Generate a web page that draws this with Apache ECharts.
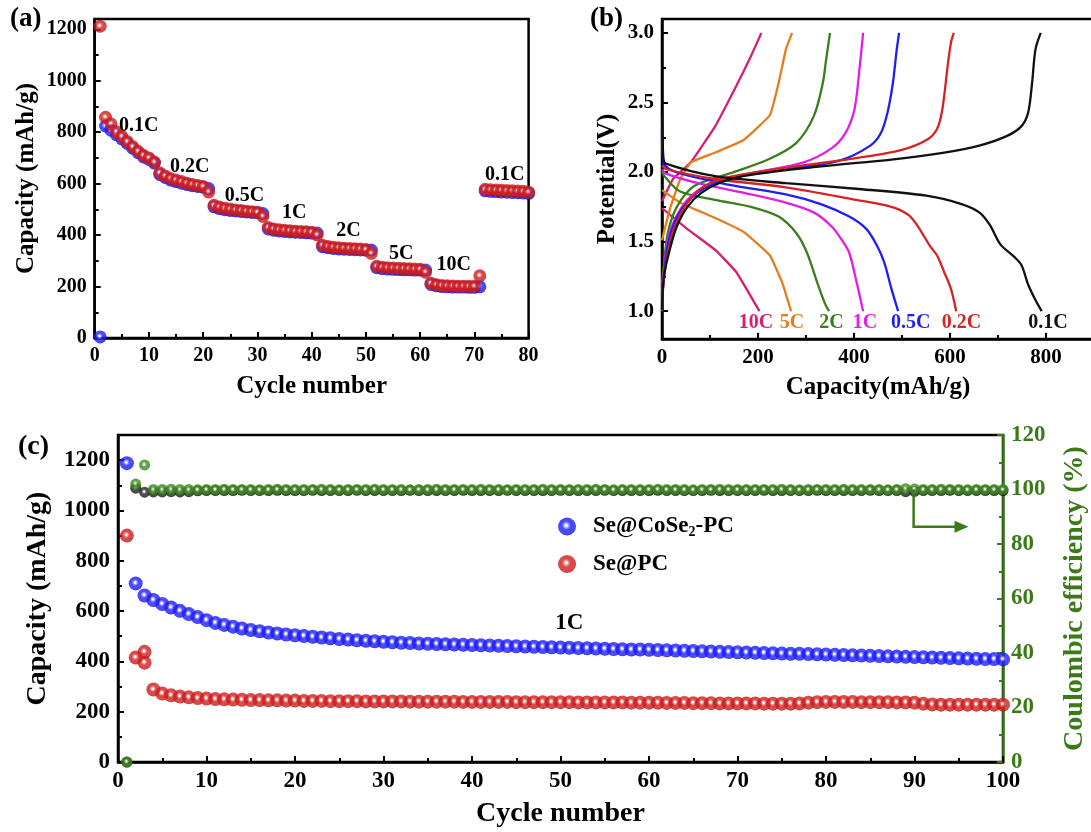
<!DOCTYPE html>
<html>
<head>
<meta charset="utf-8">
<script src="https://cdn.jsdelivr.net/npm/echarts@6/dist/echarts.min.js"></script>
<style>
html,body{margin:0;padding:0;background:#fff;}
#main{width:1091px;height:832px;}
</style>
</head>
<body>
<div id="main"></div>
<script>
// ---------- (a) rate capability, cycles 1..80 ----------
const rateCoSe2 = [4,
  824, 808, 790, 774, 756, 738, 720, 704, 694, 680,
  636, 624, 614, 608, 602, 597, 592, 589, 586, 581,
  510, 503, 499, 496, 494, 492, 490, 488, 487, 484,
  424, 419, 416, 414, 412, 411, 410, 409, 408, 408,
  355, 351, 348, 346, 345, 344, 343, 342, 341, 342,
  273, 270, 268, 267, 266, 265, 265, 264, 264, 264,
  208, 203, 200, 199, 198, 198, 198, 197, 197, 199,
  572, 570, 569, 568, 567, 566, 565, 564, 562];
const ratePC = [1212,
  858, 832, 802, 784, 764, 744, 726, 710, 700, 684,
  642, 630, 620, 614, 608, 602, 597, 593, 589, 568,
  516, 509, 504, 501, 498, 496, 493, 491, 489, 473,
  430, 424, 421, 419, 417, 415, 414, 413, 411, 401,
  361, 356, 353, 351, 349, 348, 347, 346, 344, 329,
  279, 275, 273, 272, 271, 270, 269, 268, 267, 256,
  213, 207, 204, 203, 202, 201, 201, 201, 201, 242,
  578, 576, 575, 574, 573, 572, 571, 570, 567];
const rateTags = ['0.1C', '0.2C', '0.5C', '1C', '2C', '5C', '10C', '0.1C'];
const rateTagAt = [[8.1, 826], [17.5, 667], [27.6, 551], [36.8, 486], [46.8, 415], [56.5, 328], [66.2, 286], [75.6, 635]];

// ---------- (b) charge/discharge profiles, [capacity, potential] ----------
const dis10C = [[0,1.74],[53,1.59],[111,1.44],[155,1.28],[203,1.0]];
const chg10C = [[0,1.79],[23,1.95],[60,2.07],[111,2.33],[155,2.62],[185,2.83],[207,3.0]];
const dis5C = [[0,1.87],[38,1.78],[111,1.67],[170,1.57],[225,1.40],[251,1.20],[269,1.0]];
const chg5C = [[0,1.51],[16,1.73],[38,1.95],[60,2.07],[111,2.14],[170,2.23],[225,2.41],[243,2.64],[258,2.88],[271,3.0]];
const dis2C = [[0,2.00],[5,1.97],[38,1.86],[111,1.80],[185,1.75],[243,1.68],[280,1.56],[302,1.42],[324,1.20],[339,1.06],[348,1.0]];
const chg2C = [[0,1.20],[3,1.30],[12,1.56],[31,1.75],[67,1.90],[141,1.99],[221,2.09],[280,2.21],[316,2.40],[335,2.64],[342,2.81],[350,3.0]];
const dis1C = [[0,2.02],[7,1.99],[75,1.92],[185,1.84],[258,1.78],[316,1.71],[353,1.61],[375,1.51],[390,1.42],[404,1.23],[419,1.0]];
const chg1C = [[0,1.13],[3,1.25],[10,1.47],[23,1.63],[53,1.80],[97,1.91],[185,1.99],[295,2.07],[353,2.17],[382,2.28],[401,2.45],[412,2.76],[419,3.0]];
const dis05C = [[0,2.30],[4,2.06],[111,1.93],[258,1.84],[331,1.77],[390,1.68],[426,1.59],[448,1.47],[463,1.35],[478,1.16],[492,1.0]];
const chg05C = [[0,1.08],[3,1.20],[10,1.44],[23,1.61],[45,1.75],[82,1.87],[148,1.96],[258,2.02],[368,2.08],[434,2.19],[456,2.28],[470,2.43],[481,2.64],[489,2.88],[494,3.0]];
const dis02C = [[0,2.05],[9,2.02],[111,1.95],[258,1.89],[404,1.80],[478,1.75],[514,1.69],[533,1.61],[558,1.47],[573,1.40],[588,1.28],[602,1.16],[613,1.0]];
const chg02C = [[0,1.00],[3,1.20],[12,1.42],[27,1.61],[53,1.78],[89,1.90],[148,1.97],[258,2.03],[404,2.10],[500,2.16],[551,2.23],[573,2.31],[584,2.45],[595,2.76],[602,2.93],[608,3.0]];
const dis01C = [[0,2.42],[3,2.10],[8,2.06],[111,1.97],[258,1.92],[404,1.88],[551,1.83],[624,1.77],[661,1.71],[683,1.62],[705,1.48],[734,1.39],[749,1.33],[763,1.19],[778,1.08],[791,1.0]];
const chg01C = [[0,1.01],[4,1.25],[16,1.44],[31,1.61],[53,1.75],[82,1.85],[126,1.93],[185,1.98],[331,2.04],[478,2.09],[588,2.14],[661,2.19],[719,2.26],[749,2.33],[763,2.43],[771,2.64],[778,2.88],[789,3.0]];
const profileNames = ['10C', '5C', '2C', '1C', '0.5C', '0.2C', '0.1C'];
const profileDis = [dis10C, dis5C, dis2C, dis1C, dis05C, dis02C, dis01C];
const profileChg = [chg10C, chg5C, chg2C, chg1C, chg05C, chg02C, chg01C];
const profileTagAt = [196, 271, 353, 423, 518, 624, 804];
const profileColors = ['#d41f74', '#e57c1e', '#3a7d1a', '#e21ee6', '#1f1ff5', '#d62222', '#111111'];

// ---------- (c) cycling at 1C, cycles 1..100 ----------
const cycCoSe2 = [
  1188, 710, 662, 644, 628, 614, 601, 588, 576, 564,
  553, 545, 538, 531, 525, 520, 515, 511, 507, 504,
  501, 498, 495, 492, 489, 487, 484, 482, 480, 478,
  476, 474, 473, 471, 470, 469, 468, 467, 466, 465,
  464, 463, 462, 461, 460, 459, 458, 457, 456, 455,
  454, 453, 452, 451, 450, 449, 448, 447, 447, 446,
  445, 444, 443, 442, 441, 440, 439, 438, 437, 436,
  435, 434, 433, 432, 431, 430, 430, 429, 428, 427,
  426, 425, 424, 423, 422, 421, 420, 419, 418, 417,
  416, 415, 414, 413, 412, 411, 410, 409, 409, 408];
const cycPC = [
  900, 415, 395, 288, 272, 265, 260, 257, 254, 252,
  250, 249, 248, 247, 246, 246, 245, 245, 244, 244,
  243, 243, 243, 242, 242, 242, 242, 241, 241, 241,
  241, 241, 240, 240, 240, 240, 240, 240, 239, 239,
  239, 239, 239, 239, 238, 238, 238, 238, 238, 238,
  238, 237, 237, 237, 237, 237, 237, 236, 236, 236,
  236, 235, 235, 235, 234, 234, 234, 233, 233, 233,
  233, 233, 232, 232, 232, 232, 233, 236, 238, 239,
  239, 239, 239, 238, 238, 238, 238, 237, 237, 236,
  232, 229, 228, 228, 228, 228, 228, 228, 228, 228];
const cycPCExtra = [[3, 438]];
const ceCoSe2 = [
  0, 102, 109, 100.0, 100.0, 100.1, 100.0, 100.0, 99.9, 100.0,
  100.0, 100.1, 100.0, 100.0, 100.0, 99.9, 100.0, 100.1, 100.0, 100.0,
  100.0, 100.0, 100.1, 100.0, 99.9, 100.0, 100.0, 100.0, 100.1, 100.0,
  100.0, 100.0, 99.9, 100.0, 100.0, 100.1, 100.0, 100.0, 100.0, 100.0,
  100.1, 100.0, 100.0, 99.9, 100.0, 100.0, 100.0, 100.1, 100.0, 100.0,
  100.0, 100.0, 100.0, 100.1, 100.0, 99.9, 100.0, 100.0, 100.0, 100.0,
  100.1, 100.0, 100.0, 100.0, 99.9, 100.0, 100.0, 100.1, 100.0, 100.0,
  100.0, 100.0, 100.0, 100.0, 100.1, 100.0, 99.9, 100.0, 100.0, 100.0,
  100.0, 100.1, 100.0, 100.0, 100.0, 100.0, 99.9, 100.0, 100.3, 100.2,
  100.0, 100.0, 100.1, 100.0, 100.0, 99.9, 100.0, 100.0, 100.0, 100.0];
const cePC = [
  0, 100.5, 99.0, 99.1, 99.1, 99.2, 99.1, 99.2, 99.5, 99.6,
  99.6, 99.6, 99.6, 99.7, 99.6, 99.6, 99.6, 99.7, 99.6, 99.6,
  99.6, 99.7, 99.6, 99.6, 99.6, 99.6, 99.7, 99.6, 99.6, 99.6,
  99.6, 99.6, 99.7, 99.6, 99.6, 99.6, 99.6, 99.6, 99.7, 99.6,
  99.6, 99.6, 99.6, 99.7, 99.6, 99.6, 99.6, 99.6, 99.6, 99.7,
  99.6, 99.6, 99.6, 99.6, 99.7, 99.6, 99.6, 99.6, 99.6, 99.6,
  99.7, 99.6, 99.6, 99.6, 99.6, 99.6, 99.7, 99.6, 99.6, 99.6,
  99.6, 99.6, 99.7, 99.6, 99.6, 99.6, 99.6, 99.6, 99.7, 99.6,
  99.6, 99.6, 99.6, 99.6, 99.7, 99.6, 99.6, 99.6, 99.2, 99.3,
  99.6, 99.6, 99.6, 99.7, 99.6, 99.6, 99.6, 99.6, 99.6, 99.6];
const legendNames = ['Se@CoSe2-PC', 'Se@PC'];

// ---------- styling helpers ----------
const FONT = "'Liberation Serif','Times New Roman',serif";
const GREEN = '#3a7a17';

// shaded ball marker: small white glint, saturated body, dark rim
function sphere(base, dark, light) {
  return {
    type: 'radial', x: 0.46, y: 0.44, r: 0.58,
    colorStops: [
      { offset: 0, color: '#ffffff' },
      { offset: 0.1, color: '#ffffff' },
      { offset: 0.22, color: light },
      { offset: 0.42, color: base },
      { offset: 0.8, color: base },
      { offset: 1, color: dark }
    ]
  };
}
const RED = sphere('#d01c1c', '#9a0e0e', '#e88080');
const BLUE = sphere('#1c1cff', '#0000b0', '#9090ff');
const GRN = sphere('#3c8a1c', '#275c10', '#9cc888');
const BLK = sphere('#202020', '#000000', '#8a8a8a');

const withCycle = arr => arr.map((v, i) => [i + 1, v]);
const plain = v => String(v);

function tickAxis(color, size) {
  return {
    axisLine: { show: true, onZero: false, lineStyle: { color: color, width: 2.5 } },
    axisTick: { show: true, inside: true, length: 6, lineStyle: { color: color, width: 2 } },
    minorTick: { show: true, splitNumber: 2, length: 4, lineStyle: { color: color, width: 2 } },
    axisLabel: { color: color, fontFamily: FONT, fontWeight: 'bold', fontSize: size, margin: 8, formatter: plain },
    splitLine: { show: false },
    nameTextStyle: { color: color, fontFamily: FONT, fontWeight: 'bold' }
  };
}
function axis(base, extra) {
  const o = Object.assign({}, base, extra);
  if (extra.axisLabel) o.axisLabel = Object.assign({}, base.axisLabel, extra.axisLabel);
  if (extra.nameTextStyle) o.nameTextStyle = Object.assign({}, base.nameTextStyle, extra.nameTextStyle);
  if (extra.axisTick) o.axisTick = Object.assign({}, base.axisTick, extra.axisTick);
  return o;
}

const gridBase = { show: true, borderColor: '#000', borderWidth: 2.5, backgroundColor: 'transparent', outerBoundsMode: 'none', containLabel: false };

const series = [];
// (a)
series.push({ name: 'rate Se@CoSe2-PC', type: 'scatter', xAxisIndex: 0, yAxisIndex: 0, symbolSize: 13,
  itemStyle: { color: BLUE }, data: withCycle(rateCoSe2), z: 2 });
series.push({ name: 'rate Se@PC', type: 'scatter', xAxisIndex: 0, yAxisIndex: 0, symbolSize: 13,
  itemStyle: { color: RED }, data: withCycle(ratePC), z: 3 });
// (b)
profileNames.forEach((n, k) => {
  const common = { type: 'line', xAxisIndex: 1, yAxisIndex: 1, showSymbol: false, symbol: 'none',
    lineStyle: { color: profileColors[k], width: 2.3 }, itemStyle: { color: profileColors[k] },
    smooth: (n === '10C' || n === '5C') ? 0.1 : 0.3, z: 2 + k };
  series.push(Object.assign({ name: n + ' discharge', data: profileDis[k] }, common));
  series.push(Object.assign({ name: n + ' charge', data: profileChg[k] }, common));
});
// (c)
series.push({ name: 'CE Se@PC', type: 'scatter', xAxisIndex: 2, yAxisIndex: 4, symbolSize: 11,
  itemStyle: { color: BLK }, data: withCycle(cePC), z: 2 });
series.push({ name: 'CE Se@CoSe2-PC', type: 'scatter', xAxisIndex: 2, yAxisIndex: 4, symbolSize: 11,
  itemStyle: { color: GRN }, data: withCycle(ceCoSe2), z: 3 });
series.push({ name: legendNames[1], type: 'scatter', xAxisIndex: 2, yAxisIndex: 3, symbolSize: 14,
  itemStyle: { color: RED }, data: withCycle(cycPC).concat(cycPCExtra), z: 4 });
series.push({ name: legendNames[0], type: 'scatter', xAxisIndex: 2, yAxisIndex: 3, symbolSize: 14,
  itemStyle: { color: BLUE }, data: withCycle(cycCoSe2), z: 5 });

const blackAx = tickAxis('#000', 20);
const blackAxC = tickAxis('#000', 23);
const greenAxC = tickAxis(GREEN, 23);

const option = {
  animation: false,
  backgroundColor: '#fff',
  textStyle: { fontFamily: FONT },
  grid: [
    Object.assign({ left: 94.7, right: 562.4, top: 19, bottom: 494 }, gridBase),
    Object.assign({ left: 662, right: -3, top: 19, bottom: 493 }, gridBase),
    Object.assign({ left: 118, right: 88, top: 435, bottom: 70 }, gridBase)
  ],
  xAxis: [
    axis(blackAx, { gridIndex: 0, type: 'value', min: 0, max: 80, interval: 10,
      name: 'Cycle number', nameLocation: 'middle', nameGap: 36, nameTextStyle: { fontSize: 25 } }),
    axis(blackAx, { gridIndex: 1, type: 'value', min: 0, max: 900, interval: 200,
      axisLabel: { showMaxLabel: false, fontSize: 21 },
      name: 'Capacity(mAh/g)', nameLocation: 'middle', nameGap: 36, nameTextStyle: { fontSize: 25 } }),
    axis(blackAxC, { gridIndex: 2, type: 'value', min: 0, max: 100, interval: 10,
      name: 'Cycle number', nameLocation: 'middle', nameGap: 38, nameTextStyle: { fontSize: 28 } })
  ],
  yAxis: [
    axis(blackAx, { gridIndex: 0, type: 'value', min: 0, max: 1240, interval: 200,
      axisLabel: { showMaxLabel: false },
      name: 'Capacity (mAh/g)', nameLocation: 'middle', nameGap: 56, nameTextStyle: { fontSize: 25 } }),
    axis(blackAx, { gridIndex: 1, type: 'value', min: 0.8, max: 3.1,
      minorTick: { show: false },
      axisTick: { customValues: [1, 1.5, 2, 2.5, 3] },
      axisLabel: { customValues: [1, 1.5, 2, 2.5, 3], formatter: v => v.toFixed(1), fontSize: 21 },
      name: 'Potential(V)', nameLocation: 'middle', nameGap: 42, nameTextStyle: { fontSize: 25 } }),
    { gridIndex: 1, type: 'value', min: 0.8, max: 3.1, position: 'left',
      axisLine: { show: false }, axisLabel: { show: false }, splitLine: { show: false },
      axisTick: { show: true, inside: true, length: 4, customValues: [1.25, 1.75, 2.25, 2.75],
        lineStyle: { color: '#000', width: 2 } } },
    axis(blackAxC, { gridIndex: 2, type: 'value', min: 0, max: 1300, interval: 200,
      axisLabel: { showMaxLabel: false },
      name: 'Capacity (mAh/g)', nameLocation: 'middle', nameGap: 66, nameTextStyle: { fontSize: 28 } }),
    axis(greenAxC, { gridIndex: 2, type: 'value', position: 'right', min: 0, max: 120, interval: 20,
      name: 'Coulombic efficiency (%)', nameLocation: 'middle', nameGap: 58, nameTextStyle: { fontSize: 28 } })
  ],
  legend: {
    data: legendNames, orient: 'vertical', left: 553, top: 510,
    itemWidth: 18, itemHeight: 18, itemGap: 13, icon: 'circle',
    selectedMode: false,
    formatter: n => n === 'Se@CoSe2-PC' ? '{t|Se@CoSe}{s|2}{t|-PC}' : '{t|Se@PC}',
    textStyle: {
      padding: [0, 0, 0, 12],
      rich: {
        t: { fontFamily: FONT, fontWeight: 'bold', fontSize: 23, color: '#000', lineHeight: 26 },
        s: { fontFamily: FONT, fontWeight: 'bold', fontSize: 14, color: '#000', lineHeight: 26, verticalAlign: 'bottom', padding: [10, 0, 0, 0] }
      }
    }
  },
  series: series
};

const chart = echarts.init(document.getElementById('main'), null, { renderer: 'canvas' });
chart.setOption(option);

// annotations placed in data space
const toPx = (xi, yi, v) => chart.convertToPixel({ xAxisIndex: xi, yAxisIndex: yi }, v);
const txt = (p, text, size, color) => ({
  type: 'text', x: p[0], y: p[1], z: 100,
  style: { text: text, fill: color, fontFamily: FONT, fontWeight: 'bold', fontSize: size, align: 'center', verticalAlign: 'middle' }
});
const graphics = [];
graphics.push({ type: 'text', left: 10, top: 6, style: { text: '(a)', fill: '#000', fontFamily: FONT, fontWeight: 'bold', fontSize: 27 } });
graphics.push({ type: 'text', left: 590, top: 6, style: { text: '(b)', fill: '#000', fontFamily: FONT, fontWeight: 'bold', fontSize: 27 } });
graphics.push({ type: 'text', left: 18, top: 433, style: { text: '(c)', fill: '#000', fontFamily: FONT, fontWeight: 'bold', fontSize: 28 } });
rateTags.forEach((t, i) => graphics.push(txt(toPx(0, 0, rateTagAt[i]), t, 20, '#000')));
profileNames.forEach((t, i) => graphics.push(txt(toPx(1, 1, [profileTagAt[i], 0.916]), t, 20, profileColors[i])));
graphics.push(txt(toPx(2, 3, [51, 552]), '1C', 23, '#000'));
// arrow pointing to the efficiency axis
const a0 = toPx(2, 4, [89.9, 100]);
const a1 = toPx(2, 4, [89.9, 86.3]);
const a2 = toPx(2, 4, [96.1, 86.3]);
graphics.push({ type: 'polyline', z: 100, shape: { points: [a0, a1, [a2[0] - 12, a2[1]]] },
  style: { stroke: GREEN, lineWidth: 2.5, fill: null } });
graphics.push({ type: 'polygon', z: 100, shape: { points: [[a2[0], a2[1]], [a2[0] - 14, a2[1] - 6], [a2[0] - 14, a2[1] + 6]] },
  style: { fill: GREEN } });
chart.setOption({ graphic: graphics });
</script>
</body>
</html>
